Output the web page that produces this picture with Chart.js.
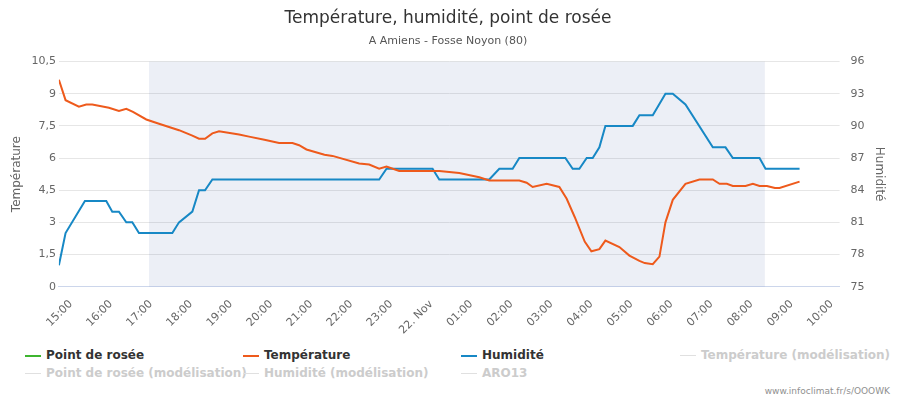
<!DOCTYPE html>
<html><head><meta charset="utf-8">
<script src="https://cdn.jsdelivr.net/npm/chart.js@4"></script>
<style>
body{margin:0;background:#fff;font-family:"DejaVu Sans",sans-serif;}
#wrap{position:relative;width:900px;height:340px;}
#legend{position:absolute;left:0;top:340px;width:900px;font-size:12px;font-weight:bold;}
.li{position:absolute;white-space:nowrap;}
.li i{display:inline-block;width:16px;height:2px;vertical-align:middle;margin-right:5px;}
#credit{position:absolute;right:10px;top:386px;font-size:9px;color:#909090;}
</style></head><body>
<div id="wrap"><canvas id="c" width="900" height="340"></canvas></div>
<div id="legend"></div>
<div id="credit">www.infoclimat.fr/s/OOOWK</div>
<script>
// x positions are minutes after 15:00
var tempMinutes = [-18,-8,12,23,32,57,72,83,93,113,132,162,182,192,201,212,222,252,267,290,312,332,342,353,380,392,432,447,462,473,492,552,582,612,627,672,683,692,713,732,743,755,770,780,792,801,822,837,852,860,872,882,891,902,921,942,962,972,983,992,1011,1022,1032,1043,1055,1062,1092];
var tempValues = [9.65,8.7,8.4,8.5,8.5,8.35,8.2,8.3,8.15,7.8,7.6,7.3,7.05,6.9,6.9,7.15,7.25,7.1,7.0,6.85,6.7,6.7,6.6,6.4,6.15,6.1,5.75,5.7,5.5,5.6,5.4,5.4,5.3,5.1,4.95,4.95,4.85,4.65,4.8,4.65,4.1,3.25,2.1,1.65,1.75,2.15,1.85,1.45,1.2,1.1,1.05,1.4,3.0,4.05,4.8,5.0,5.0,4.8,4.8,4.7,4.7,4.8,4.7,4.7,4.6,4.6,4.9];
var humMinutes = [-18,-8,21,53,62,72,83,92,102,152,162,182,192,201,212,462,473,542,552,627,642,662,672,741,752,762,773,782,792,801,842,852,872,891,902,921,962,981,992,1032,1041,1092];
var humValues = [77,80,83,83,82,82,81,81,80,80,81,82,84,84,85,85,86,86,85,85,86,86,87,87,86,86,87,87,88,90,90,91,91,93,93,92,88,88,87,87,86,86];
var tickLabels = ['15:00','16:00','17:00','18:00','19:00','20:00','21:00','22:00','23:00','22. Nov','01:00','02:00','03:00','04:00','05:00','06:00','07:00','08:00','09:00','10:00'];
var bandFrom = 117, bandTo = 1040;

function pts(xs, ys){ return xs.map(function(x,i){ return {x:x,y:ys[i]}; }); }

var bandPlugin = {
  id:'band',
  beforeDatasetsDraw:function(ch){
    var x = ch.scales.x, a = ch.chartArea, c = ch.ctx;
    c.save(); c.fillStyle = 'rgba(68,100,170,0.1)';
    var l = x.getPixelForValue(bandFrom), r = x.getPixelForValue(bandTo);
    c.fillRect(l, a.top, r-l, a.bottom-a.top); c.restore();
  }
};

new Chart(document.getElementById('c'), {
  type:'line',
  data:{datasets:[
    {label:'Point de rosée', data:[], borderColor:'#3eb52f', yAxisID:'y'},
    {label:'Température', data:pts(tempMinutes,tempValues), borderColor:'#ee5a1c', borderWidth:2, pointRadius:0, yAxisID:'y'},
    {label:'Humidité', data:pts(humMinutes,humValues), borderColor:'#1788c5', borderWidth:2, pointRadius:0, yAxisID:'y1'}
  ]},
  options:{
    responsive:false, animation:false,
    layout:{padding:{left:6,right:10,top:0,bottom:0}},
    plugins:{
      legend:{display:false}, tooltip:{enabled:false},
      title:{display:true,text:'Température, humidité, point de rosée',color:'#333',font:{size:17,family:'DejaVu Sans',weight:'normal'},padding:{top:8,bottom:6}},
      subtitle:{display:true,text:'A Amiens - Fosse Noyon (80)',color:'#555',font:{size:11,family:'DejaVu Sans'},padding:{bottom:14}}
    },
    scales:{
      x:{type:'linear',min:-18,max:1152,
        afterBuildTicks:function(s){ s.ticks = tickLabels.map(function(t,i){ return {value:i*60}; }); },
        ticks:{autoSkip:false,maxRotation:45,minRotation:45,color:'#666',font:{size:11,family:'DejaVu Sans'},
          callback:function(v){ return tickLabels[Math.round(v/60)]; }},
        grid:{display:false,drawTicks:true,tickLength:8,tickColor:'#ccd6eb'},
        border:{color:'#ccd6eb'}},
      y:{position:'left',min:0,max:10.5,
        afterBuildTicks:function(s){ var t=[]; for(var v=0;v<=10.5;v+=1.5) t.push({value:v}); s.ticks=t; },
        ticks:{color:'#666',font:{size:11,family:'DejaVu Sans'},callback:function(v){ return String(Math.round(v*10)/10).replace('.',','); }},
        title:{display:true,text:'Température',color:'#666',font:{size:12,family:'DejaVu Sans'}},
        grid:{color:'#e6e6e6',drawTicks:false}, border:{display:false}},
      y1:{position:'right',min:75,max:96,
        afterBuildTicks:function(s){ var t=[]; for(var v=75;v<=96;v+=3) t.push({value:v}); s.ticks=t; },
        ticks:{color:'#666',font:{size:11,family:'DejaVu Sans'}},
        title:{display:true,text:'Humidité',color:'#666',font:{size:12,family:'DejaVu Sans'}},
        grid:{display:false}, border:{display:false}}
    }
  },
  plugins:[bandPlugin]
});

var items = [
  ['Point de rosée','#3eb52f',25,8,false],['Température','#ee5a1c',243,8,false],['Humidité','#1788c5',461,8,false],['Température (modélisation)','#ccc',680,8,true],
  ['Point de rosée (modélisation)','#ccc',25,26,true],['Humidité (modélisation)','#ccc',243,26,true],['ARO13','#ccc',461,26,true]
];
var lg = document.getElementById('legend');
items.forEach(function(it){
  var d = document.createElement('div'); d.className='li';
  d.style.left=it[2]+'px'; d.style.top=it[3]+'px'; d.style.color = it[4]?'#ccc':'#333';
  d.innerHTML='<i style="background:'+(it[4]?'#e0e0e0':it[1])+';height:'+(it[4]?1:2)+'px"></i>'+it[0];
  lg.appendChild(d);
});
</script>
</body></html>
